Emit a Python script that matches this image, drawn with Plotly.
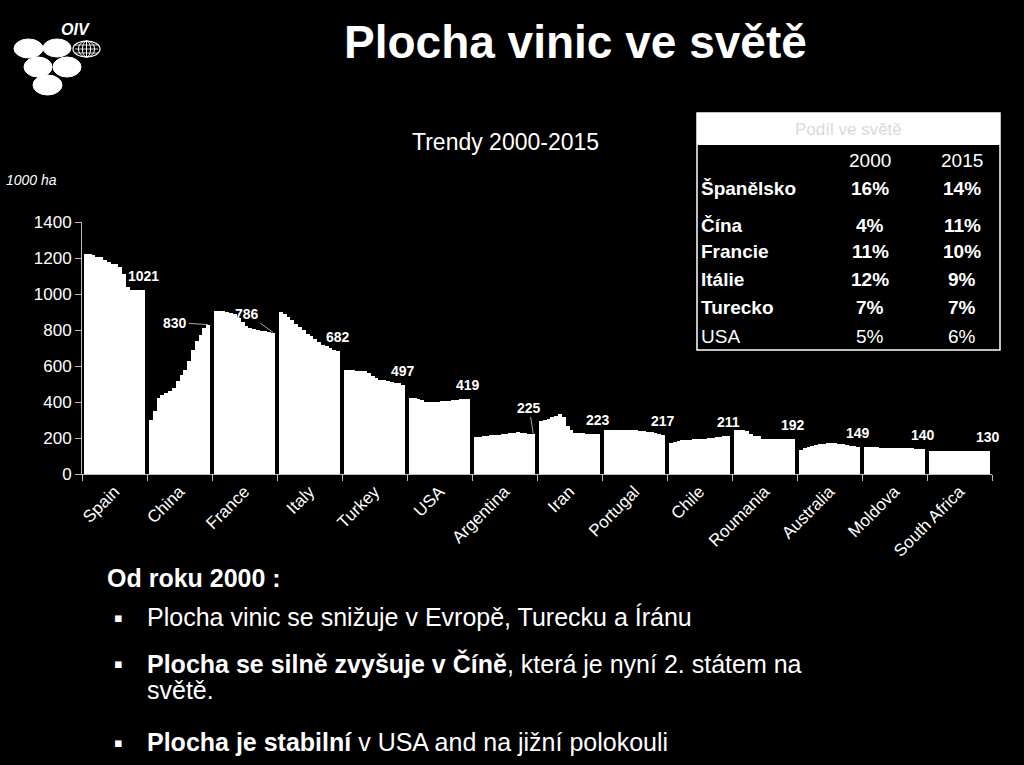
import plotly.graph_objects as go

# ---------------- data ----------------
countries = ["Spain", "China", "France", "Italy", "Turkey", "USA", "Argentina", "Iran",
             "Portugal", "Chile", "Roumania", "Australia", "Moldova", "South Africa"]
years = list(range(2000, 2016))

spain = [1225, 1220, 1215, 1206, 1205, 1188, 1178, 1169, 1164, 1151, 1110, 1040, 1021, 1021, 1021, 1021]
china = [302, 349, 423, 441, 450, 460, 478, 515, 552, 580, 626, 691, 737, 774, 811, 830]
france = [906, 906, 903, 901, 897, 888, 869, 842, 823, 810, 805, 801, 797, 793, 790, 786]
italy = [901, 888, 873, 854, 836, 817, 799, 780, 765, 749, 734, 719, 710, 701, 691, 682]
turkey = [580, 580, 577, 573, 571, 571, 562, 543, 532, 525, 521, 516, 512, 506, 503, 497]
usa = [425, 425, 419, 410, 402, 400, 400, 401, 403, 405, 408, 410, 412, 414, 417, 419]
argentina = [206, 208, 210, 212, 214, 216, 218, 220, 222, 226, 230, 232, 228, 226, 225, 225]
iran = [292, 301, 306, 316, 325, 334, 319, 267, 242, 230, 227, 226, 225, 224, 223, 223]
portugal = [245, 245, 245, 245, 245, 245, 245, 244, 243, 241, 239, 236, 232, 228, 223, 217]
chile = [174, 180, 185, 187, 189, 190, 192, 193, 195, 197, 199, 202, 204, 206, 209, 211]
roumania = [246, 246, 242, 238, 222, 212, 209, 192, 192, 192, 192, 192, 192, 192, 192, 192]
australia = [134, 142, 150, 157, 162, 165, 168, 170, 171, 171, 169, 166, 162, 158, 153, 149]
moldova = [149, 149, 148, 148, 147, 147, 146, 146, 145, 145, 144, 143, 142, 141, 140, 140]
south_africa = [126, 127, 127, 128, 128, 129, 129, 129, 130, 130, 130, 130, 130, 130, 130, 130]

series = [spain, china, france, italy, turkey, usa, argentina, iran,
          portugal, chile, roumania, australia, moldova, south_africa]

y_ticks = [0, 200, 400, 600, 800, 1000, 1200, 1400]

table_rows = ["Španělsko", "Čína", "Francie", "Itálie", "Turecko", "USA"]
share_2000 = ["16%", "4%", "11%", "12%", "7%", "5%"]
share_2015 = ["14%", "11%", "10%", "9%", "7%", "6%"]

# ---------------- layout helpers ----------------
W, H = 1024, 765
L, R, T, B = 82, 32, 222, 291
PW, PH = W - L - R, H - T - B


def px(x):
    return (x - L) / PW


def py(y):
    return (H - B - y) / PH


FONT = "Liberation Sans, Arial, sans-serif"
SLOT = len(years) + 1

xs, ys = [], []
for gi, vals in enumerate(series):
    for yi, v in enumerate(vals):
        xs.append(gi * SLOT + yi)
        ys.append(v)

fig = go.Figure()
fig.add_trace(go.Bar(x=xs, y=ys, width=1.0,
                     marker=dict(color="white", line=dict(width=0)),
                     hoverinfo="y"))

n = len(countries)
fig.update_layout(
    width=W, height=H,
    margin=dict(l=L, r=R, t=T, b=B),
    paper_bgcolor="black", plot_bgcolor="black",
    showlegend=False,
    font=dict(family=FONT, color="white"),
    xaxis=dict(
        range=[-1, n * SLOT - 1],
        tickmode="array",
        tickvals=[gi * SLOT + (len(years) - 1) / 2 for gi in range(n)],
        ticktext=countries,
        tickangle=-45,
        ticks="",
        tickfont=dict(size=17, color="white", family=FONT),
        showline=True, linecolor="#bdbdbd", linewidth=1,
        showgrid=False, zeroline=False,
        minor=dict(tickmode="array",
                   tickvals=[gi * SLOT - 1 for gi in range(n + 1)],
                   ticks="outside", ticklen=6, tickcolor="#bdbdbd", tickwidth=1,
                   showgrid=False),
    ),
    yaxis=dict(
        range=[0, 1400],
        tickmode="array", tickvals=y_ticks,
        ticks="outside", ticklen=6, tickcolor="#bdbdbd",
        tickfont=dict(size=17, color="white", family=FONT),
        showline=True, linecolor="#bdbdbd", linewidth=1,
        showgrid=False, zeroline=False,
    ),
    bargap=0,
)


def note(x, y, text, size, xanchor="center", color="white", family=FONT):
    return dict(x=px(x), y=py(y), xref="paper", yref="paper", text=text,
                xanchor=xanchor, yanchor="middle", showarrow=False,
                font=dict(size=size, color=color, family=family))


annotations = []
# end-of-series value labels
leader = {1: (-33, -2), 2: (-26, -19), 6: (-4, -26)}
for gi, vals in enumerate(series):
    xlast = gi * SLOT + len(vals) - 1
    txt = f"<b>{vals[-1]}</b>"
    if gi in leader:
        ax, ay = leader[gi]
        annotations.append(dict(x=xlast, y=vals[-1], xref="x", yref="y", text=txt,
                                showarrow=True, arrowhead=0, arrowwidth=1,
                                arrowcolor="#aaaaaa", ax=ax, ay=ay, standoff=0,
                                font=dict(size=14, color="white", family=FONT)))
    else:
        annotations.append(dict(x=xlast, y=vals[-1], xref="x", yref="y", text=txt,
                                showarrow=False, yshift=14, xanchor="center", yanchor="middle",
                                font=dict(size=14, color="white", family=FONT)))

# titles and texts
annotations += [
    note(575, 42, "<b>Plocha vinic ve světě</b>", 46),
    note(505, 142, "Trendy 2000-2015", 23),
    note(4, 180, "<i>1000 ha</i>", 14, xanchor="left"),
    note(59, 29, "<b><i>OIV</i></b>", 16, xanchor="left"),
]

# table
annotations.append(note(848, 129, "Podíl ve světě", 17, color="#dadada"))
annotations.append(note(870, 160, "2000", 19))
annotations.append(note(962, 160, "2015", 19))
row_y = [188, 225, 251, 279, 307, 336]
for name, a, b, ry in zip(table_rows, share_2000, share_2015, row_y):
    bold = name != "USA"
    fmt = (lambda s: f"<b>{s}</b>") if bold else (lambda s: s)
    annotations.append(note(699, ry, fmt(name), 19, xanchor="left"))
    annotations.append(note(870, ry, fmt(a), 19))
    annotations.append(note(962, ry, fmt(b), 19))

# bottom text
BF = 25
annotations += [
    note(105, 578, "<b>Od roku 2000 :</b>", BF, xanchor="left"),
    note(145, 617, "Plocha vinic se snižuje v Evropě, Turecku a Íránu", BF, xanchor="left"),
    note(145, 663, "<b>Plocha se silně zvyšuje v Číně</b>, která je nyní 2. státem na", BF, xanchor="left"),
    note(145, 690, "světě.", BF, xanchor="left"),
    note(145, 742, "<b>Plocha je stabilní</b> v USA and na jižní polokouli", BF, xanchor="left"),
]
for by in [617, 663, 742]:
    annotations.append(note(118, by, "▪", 13, family="DejaVu Sans"))

fig.update_layout(annotations=annotations)

# shapes: table frame, header, logo
shapes = [
    dict(type="rect", xref="paper", yref="paper", x0=px(697), x1=px(1000), y0=py(113), y1=py(145),
         fillcolor="white", line=dict(width=0), layer="above"),
    dict(type="rect", xref="paper", yref="paper", x0=px(697), x1=px(1000), y0=py(113), y1=py(350),
         line=dict(color="white", width=1.5), layer="above"),
]
grapes = [(14, 39, 43, 58), (43, 39, 71, 57), (24, 57, 52, 77), (53, 57, 81, 77), (33, 75, 62, 95)]
for x0, y0, x1, y1 in grapes:
    shapes.append(dict(type="circle", xref="paper", yref="paper",
                       x0=px(x0), x1=px(x1), y0=py(y1), y1=py(y0),
                       fillcolor="white", line=dict(color="white", width=1)))
# globe
gx0, gy0, gx1, gy1 = 73, 41, 100, 57
shapes.append(dict(type="circle", xref="paper", yref="paper", x0=px(gx0), x1=px(gx1),
                   y0=py(gy1), y1=py(gy0), line=dict(color="white", width=1.2)))
for f in (0.2, 0.35):
    shapes.append(dict(type="circle", xref="paper", yref="paper",
                       x0=px(gx0 + (gx1 - gx0) * f), x1=px(gx1 - (gx1 - gx0) * f),
                       y0=py(gy1), y1=py(gy0), line=dict(color="white", width=1)))
shapes.append(dict(type="line", xref="paper", yref="paper", x0=px((gx0 + gx1) / 2), x1=px((gx0 + gx1) / 2),
                   y0=py(gy1), y1=py(gy0), line=dict(color="white", width=1)))
for yy in (45, 49, 53):
    shapes.append(dict(type="line", xref="paper", yref="paper", x0=px(gx0 + 2), x1=px(gx1 - 2),
                       y0=py(yy), y1=py(yy), line=dict(color="white", width=0.8)))
fig.update_layout(shapes=shapes)

fig.write_html("out.html",
               config={"displayModeBar": False},
               post_script="document.body.style.margin='0';document.body.style.background='black';"
                           "document.body.style.overflow='hidden';")
